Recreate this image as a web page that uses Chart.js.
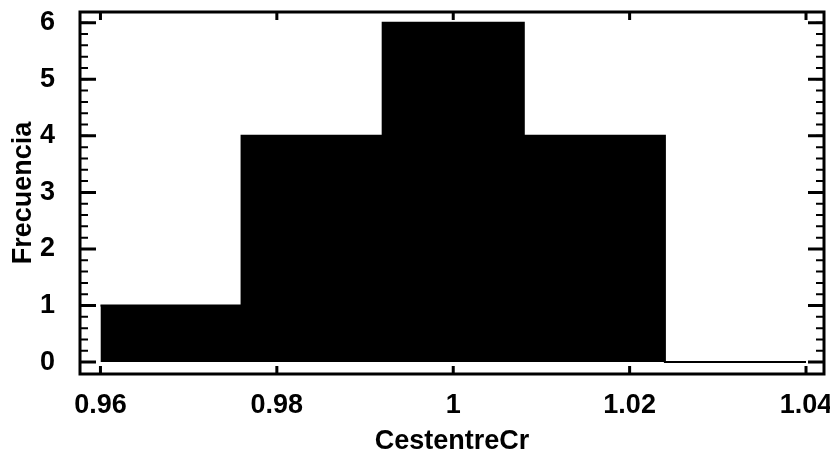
<!DOCTYPE html>
<html>
<head>
<meta charset="utf-8">
<script src="https://cdn.jsdelivr.net/npm/chart.js@4"></script>
<style>
  body { margin: 0; background: #fff; }
  canvas { display: block; }
</style>
</head>
<body>
<canvas id="histChart" width="830" height="451"></canvas>
<script>
// histogram bins (edges) and counts
const binEdges = [0.96, 0.976, 0.992, 1.008, 1.024, 1.04];
const counts = [1, 4, 6, 4, 0];

const xTickValues = [0.96, 0.98, 1.0, 1.02, 1.04];
const xTickLabels = ['0.96', '0.98', '1', '1.02', '1.04'];
const yTickValues = [0, 1, 2, 3, 4, 5, 6];
const yMinorStep = 0.2;

// step points: each edge carries the count of the bin that starts there
const stepPoints = binEdges.map((x, i) => ({ x: x, y: counts[Math.min(i, counts.length - 1)] }));

const labelFont = { family: "'Liberation Sans', Arial, sans-serif", size: 27, weight: 'bold' };

// frame + inward tick marks like the original plot
const framePlugin = {
  id: 'frame',
  afterDatasetsDraw(chart) {
    const { ctx, chartArea: a, scales } = chart;
    const xs = scales.x, ys = scales.y;
    ctx.save();
    ctx.strokeStyle = '#000';
    ctx.lineCap = 'butt';

    // x ticks, bottom and top
    ctx.lineWidth = 3;
    xTickValues.forEach(v => {
      const px = xs.getPixelForValue(v);
      ctx.beginPath();
      ctx.moveTo(px, a.bottom); ctx.lineTo(px, a.bottom - 8);
      ctx.moveTo(px, a.top); ctx.lineTo(px, a.top + 8);
      ctx.stroke();
    });

    // y minor ticks
    ctx.lineWidth = 2;
    for (let v = 0; v <= 6.001; v += yMinorStep) {
      const py = ys.getPixelForValue(v);
      ctx.beginPath();
      ctx.moveTo(a.left, py); ctx.lineTo(a.left + 8, py);
      ctx.moveTo(a.right, py); ctx.lineTo(a.right - 8, py);
      ctx.stroke();
    }
    // y major ticks
    ctx.lineWidth = 3;
    yTickValues.forEach(v => {
      const py = ys.getPixelForValue(v);
      ctx.beginPath();
      ctx.moveTo(a.left, py); ctx.lineTo(a.left + 16, py);
      ctx.moveTo(a.right, py); ctx.lineTo(a.right - 16, py);
      ctx.stroke();
    });

    ctx.lineWidth = 3;
    ctx.strokeRect(a.left, a.top, a.right - a.left, a.bottom - a.top);
    ctx.restore();
  }
};

new Chart(document.getElementById('histChart'), {
  type: 'line',
  data: {
    datasets: [{
      label: 'Frecuencia',
      data: stepPoints,
      stepped: true,
      fill: 'origin',
      backgroundColor: '#000',
      borderColor: '#000',
      borderWidth: 2,
      pointRadius: 0
    }]
  },
  options: {
    responsive: false,
    animation: false,
    layout: { padding: { top: 12, right: 6, left: 0, bottom: 0 } },
    plugins: {
      legend: { display: false },
      tooltip: { enabled: false }
    },
    scales: {
      x: {
        type: 'linear',
        min: 0.95768,
        max: 1.04204,
        grid: { display: false },
        border: { display: false },
        afterBuildTicks: axis => { axis.ticks = xTickValues.map(v => ({ value: v })); },
        afterFit: axis => {
          axis.height = 77;
          axis.paddingLeft = 0;
          axis.paddingRight = 0;
        },
        ticks: {
          color: '#000',
          font: labelFont,
          padding: 7,
          maxRotation: 0,
          autoSkip: false,
          callback: (v, i) => xTickLabels[i]
        },
        title: {
          display: true,
          text: 'CestentreCr',
          color: '#000',
          font: { family: labelFont.family, size: 27, weight: 'bold', lineHeight: 0.7 },
          padding: { top: 0, bottom: 0 }
        }
      },
      y: {
        min: -0.21,
        max: 6.19,
        grid: { display: false },
        border: { display: false },
        afterBuildTicks: axis => { axis.ticks = yTickValues.map(v => ({ value: v })); },
        afterFit: axis => {
          axis.width = 80;
          axis.paddingTop = 0;
          axis.paddingBottom = 0;
        },
        ticks: {
          color: '#000',
          font: labelFont,
          padding: 17
        },
        title: {
          display: true,
          text: 'Frecuencia',
          color: '#000',
          font: { family: labelFont.family, size: 27, weight: 'bold', lineHeight: 0.8 },
          padding: { top: 13, bottom: 0 }
        }
      }
    }
  },
  plugins: [framePlugin]
});
</script>
</body>
</html>
